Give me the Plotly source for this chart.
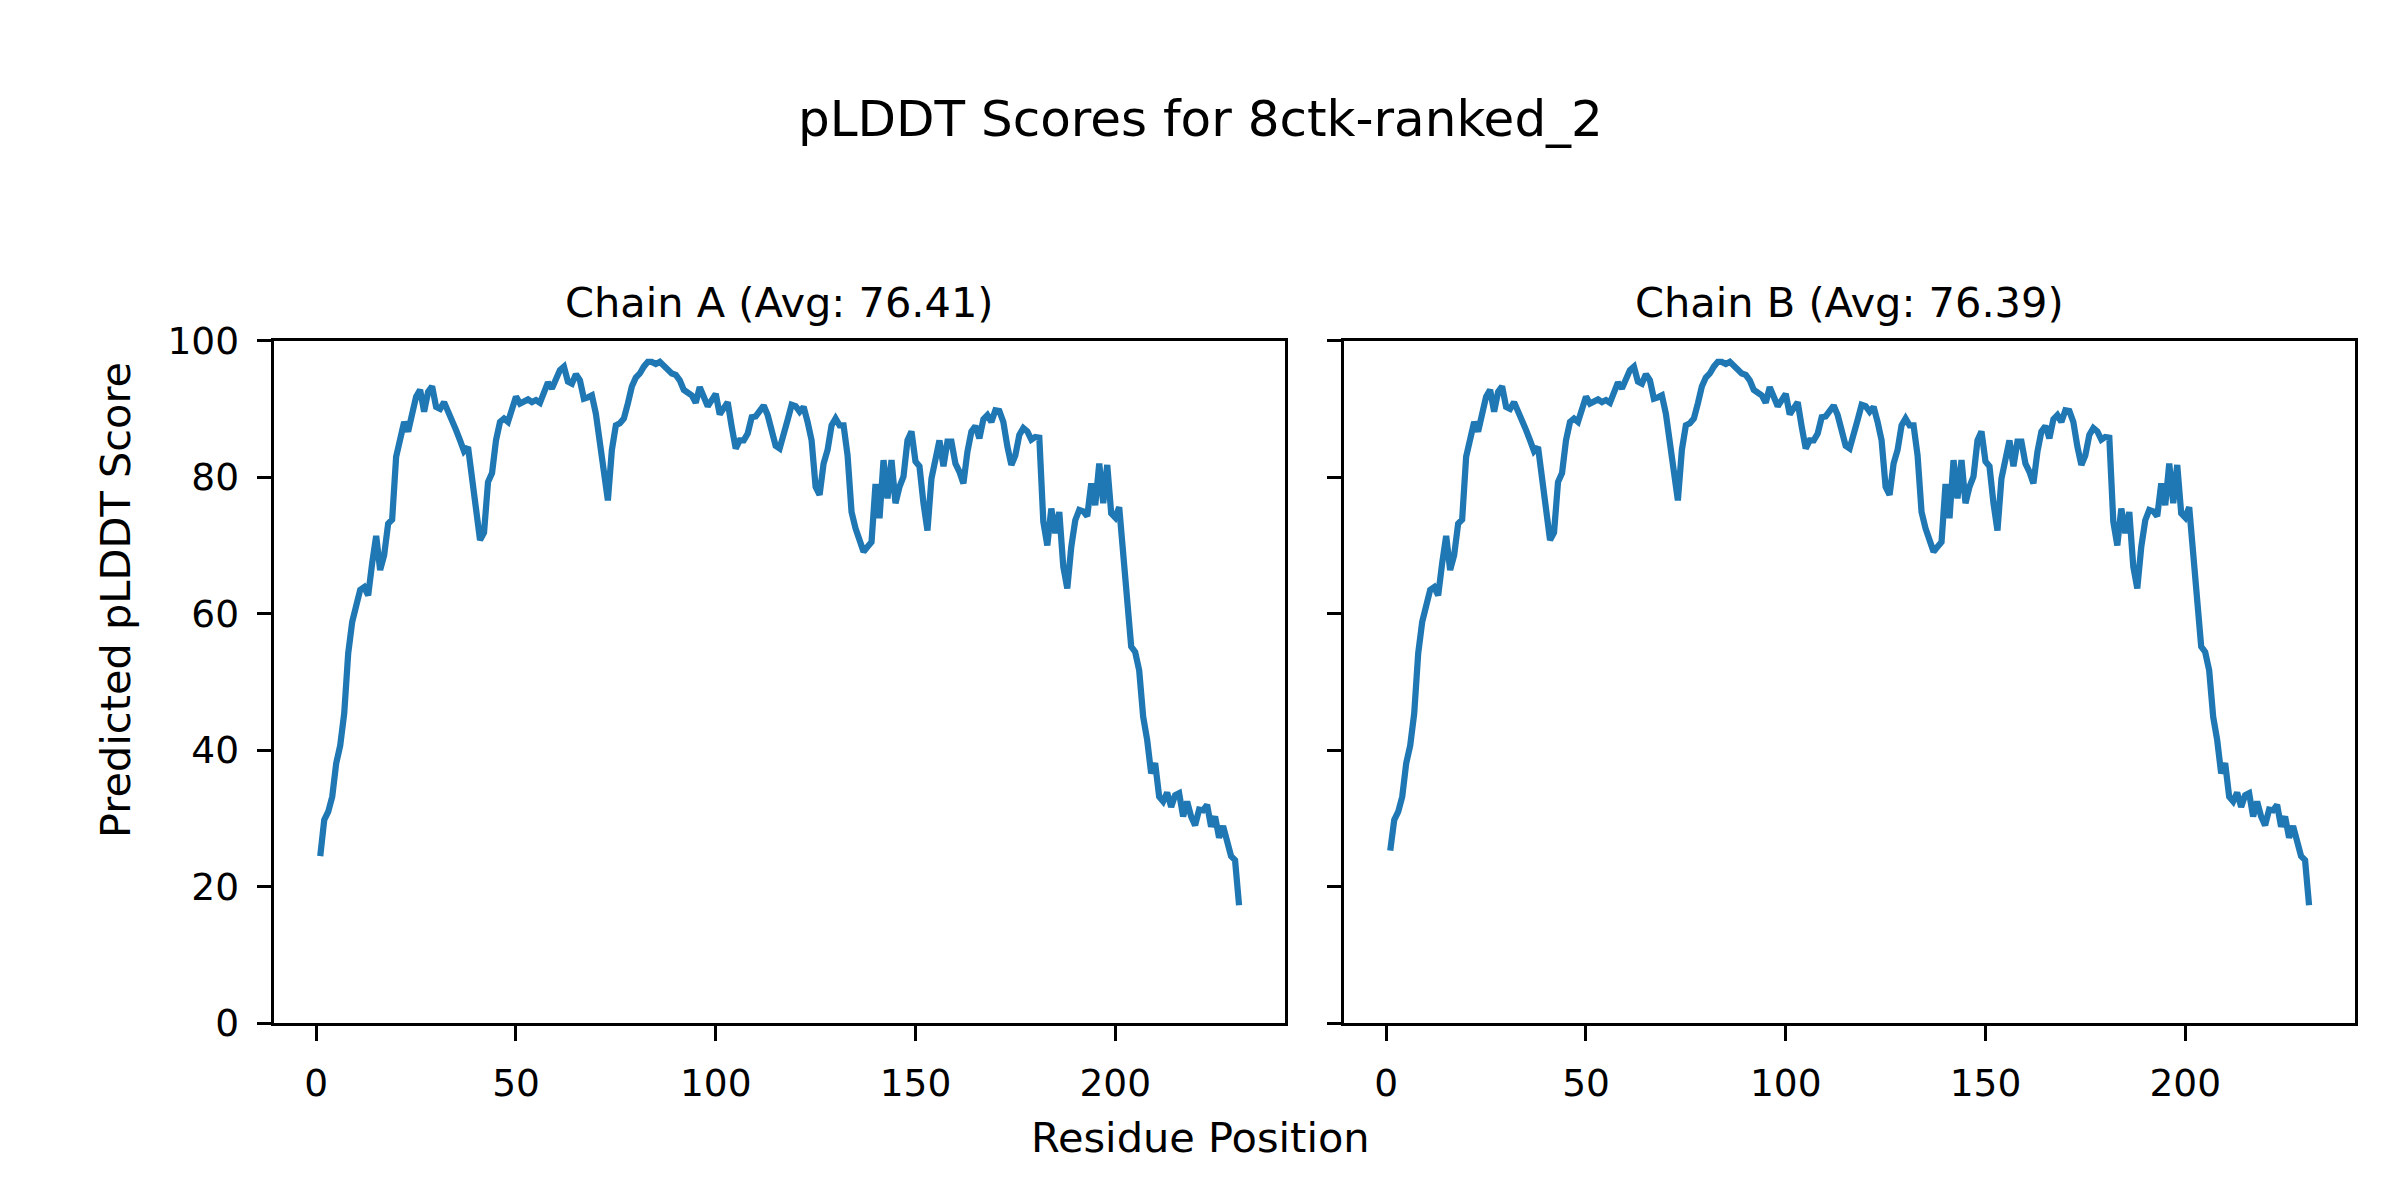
import plotly.graph_objects as go

residues = list(range(1, 232))

chain_a = [
    24.5, 29.8, 31.0, 33.2, 38.1, 40.7, 45.4, 54.2, 58.8, 60.8,
    63.5, 63.9, 62.7, 67.4, 71.4, 66.4, 68.6, 73.2, 73.8, 83.0,
    85.4, 88.1, 86.7, 89.3, 91.8, 92.8, 89.6, 92.5, 93.3, 90.3,
    90.0, 91.0, 89.8, 88.5, 86.9, 85.4, 83.8, 84.4, 79.6, 74.7,
    70.8, 71.9, 79.3, 80.6, 85.4, 88.1, 88.6, 88.1, 90.3, 91.8,
    90.8, 91.0, 91.4, 91.0, 91.3, 90.9, 92.7, 93.9, 93.0, 94.6,
    95.7, 96.2, 94.0, 93.7, 95.1, 94.2, 91.5, 91.7, 92.0, 89.3,
    85.4, 80.5, 76.6, 84.0, 87.6, 87.9, 88.6, 90.8, 93.3, 94.6,
    95.2, 96.2, 96.9, 96.9, 96.6, 96.9, 96.3, 95.7, 95.2, 95.0,
    94.2, 92.8, 92.4, 92.0, 90.9, 93.2, 91.8, 90.4, 91.3, 92.2,
    89.2, 90.3, 91.0, 87.4, 84.2, 85.4, 85.4, 86.4, 88.8, 88.9,
    89.8, 90.5, 89.1, 87.1, 84.6, 84.2, 86.7, 88.4, 90.6, 90.4,
    89.6, 90.3, 88.1, 85.4, 78.6, 77.4, 82.0, 84.0, 87.6, 88.6,
    87.6, 87.6, 83.2, 74.9, 72.5, 70.5, 69.1, 69.8, 70.5, 79.0,
    74.0, 82.5, 76.9, 82.5, 76.2, 78.6, 80.1, 85.4, 86.7, 82.3,
    81.6, 76.2, 72.2, 79.8, 83.2, 85.4, 81.6, 85.2, 85.2, 82.0,
    80.8, 79.1, 83.7, 86.7, 87.5, 85.7, 88.5, 89.1, 88.1, 89.8,
    89.7, 88.1, 84.5, 81.8, 83.2, 86.2, 87.2, 86.7, 85.5, 85.9,
    85.8, 73.5, 70.0, 75.4, 71.8, 74.9, 66.9, 63.7, 69.8, 73.7,
    75.2, 75.0, 74.3, 79.1, 75.9, 82.0, 76.2, 81.8, 74.7, 74.1,
    75.6, 68.8, 62.0, 55.2, 54.4, 51.7, 44.9, 41.5, 36.6, 38.1,
    33.2, 32.5, 33.8, 31.7, 33.4, 33.7, 30.3, 32.5, 30.3, 29.0,
    31.3, 31.2, 32.0, 28.8, 30.3, 27.2, 28.9, 26.3, 24.5, 23.9,
    17.3,
]

chain_b = [25.3] + chain_a[1:]

x_ticks = [0, 50, 100, 150, 200]
y_ticks = [0, 20, 40, 60, 80, 100]

suptitle = "pLDDT Scores for 8ctk-ranked_2"
title_a = "Chain A (Avg: 76.41)"
title_b = "Chain B (Avg: 76.39)"
xlabel = "Residue Position"
ylabel = "Predicted pLDDT Score"

FONT = "DejaVu Sans"
W, H = 2400, 1200
line_color = "#1f77b4"

fig = go.Figure()
fig.add_trace(go.Scatter(x=residues, y=chain_a, mode="lines",
                         line=dict(color=line_color, width=6.25),
                         xaxis="x", yaxis="y", showlegend=False))
fig.add_trace(go.Scatter(x=residues, y=chain_b, mode="lines",
                         line=dict(color=line_color, width=6.25),
                         xaxis="x2", yaxis="y2", showlegend=False))

xa = [274.3 / W, 1285 / W]
xb = [1344.3 / W, 2355 / W]
yd = [1 - 1023.3 / H, 1 - 340.7 / H]

axis_common = dict(
    showline=True, mirror=True, linecolor="black", linewidth=3.3,
    ticks="outside", ticklen=14.6, tickwidth=3.3, tickcolor="black",
    showgrid=False, zeroline=False, automargin=False,
    tickfont=dict(family=FONT, size=37.5, color="black"),
    ticklabelstandoff=10,
)

fig.update_layout(
    template=None,
    width=W, height=H,
    margin=dict(l=0, r=0, t=0, b=0, pad=0, autoexpand=False),
    paper_bgcolor="white", plot_bgcolor="white",
    xaxis=dict(domain=xa, anchor="y", range=[-10.5, 242.5],
               tickvals=x_ticks, **axis_common),
    yaxis=dict(domain=yd, anchor="x", range=[0, 100],
               tickvals=y_ticks, **axis_common),
    xaxis2=dict(domain=xb, anchor="y2", range=[-10.5, 242.5],
                tickvals=x_ticks, **axis_common),
    yaxis2=dict(domain=yd, anchor="x2", range=[0, 100],
                tickvals=y_ticks, showticklabels=False, **axis_common),
)

annotations = [
    dict(text=suptitle, x=0.5, y=1 - 119 / H, font=dict(size=50)),
    dict(text=title_a, x=(xa[0] + xa[1]) / 2, y=1 - 302 / H, font=dict(size=41.5)),
    dict(text=title_b, x=(xb[0] + xb[1]) / 2, y=1 - 302 / H, font=dict(size=41.5)),
    dict(text=xlabel, x=0.5, y=1 - 1137 / H, font=dict(size=41.5)),
    dict(text=ylabel, x=115 / W, y=0.5, textangle=-90, font=dict(size=41.5)),
]
for a in annotations:
    a["font"].update(family=FONT, color="black")
    fig.add_annotation(xref="paper", yref="paper", showarrow=False,
                       xanchor="center", yanchor="middle", **a)

fig.write_html(
    "out.html",
    config={"displayModeBar": False},
    post_script="document.body.style.margin='0px';document.body.style.overflow='hidden';",
)
